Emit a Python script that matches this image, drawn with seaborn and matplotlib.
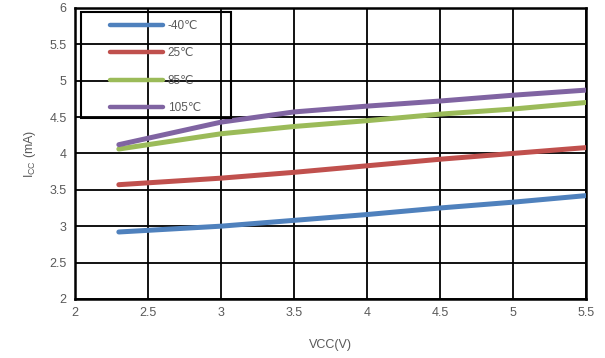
import matplotlib
matplotlib.use("Agg")
import matplotlib.pyplot as plt
from matplotlib.patches import Rectangle
import pandas as pd
import seaborn as sns

# supply voltage (V)
vcc = [2.3, 3.0, 3.5, 4.0, 4.5, 5.0, 5.5]

# supply current (mA) per temperature
icc_m40 = [2.92, 3.00, 3.08, 3.16, 3.25, 3.33, 3.42]
icc_25 = [3.57, 3.66, 3.74, 3.83, 3.92, 4.00, 4.08]
icc_85 = [4.06, 4.27, 4.37, 4.45, 4.54, 4.61, 4.70]
icc_105 = [4.12, 4.43, 4.57, 4.65, 4.72, 4.80, 4.87]

temps = ['-40℃', '25℃', '85℃', '105℃']
colors = ['#4f81bd', '#c0504d', '#9bbb59', '#8064a2']

x_ticks = [2, 2.5, 3, 3.5, 4, 4.5, 5, 5.5]
y_ticks = [2, 2.5, 3, 3.5, 4, 4.5, 5, 5.5, 6]

df = pd.concat([
    pd.DataFrame({'vcc': vcc, 'icc': vals, 'temp': t})
    for t, vals in zip(temps, [icc_m40, icc_25, icc_85, icc_105])
])

sns.set_style('white')
plt.rcParams['font.family'] = ['Liberation Sans', 'DejaVu Sans']

fig, ax = plt.subplots(figsize=(6.05, 3.58), dpi=100)
fig.subplots_adjust(left=0.124, right=0.969, top=0.978, bottom=0.165)

sns.lineplot(data=df, x='vcc', y='icc', hue='temp', hue_order=temps,
             palette=colors, linewidth=3.6, ax=ax, zorder=3,
             solid_capstyle='round')

ax.set_xlim(2, 5.5)
ax.set_ylim(2, 6)
ax.set_xticks(x_ticks)
ax.set_xticklabels([f'{v:g}' for v in x_ticks])
ax.set_yticks(y_ticks)
ax.set_yticklabels([f'{v:g}' for v in y_ticks])
ax.grid(True, color='black', linewidth=1.3)
ax.set_axisbelow(True)
for s in ax.spines.values():
    s.set_color('black')
    s.set_linewidth(1.8)
ax.tick_params(axis='both', length=0, labelsize=9, labelcolor='#595959', pad=6)

ax.set_xlabel('VCC(V)', fontsize=9, color='#595959', labelpad=14)
ax.set_ylabel(r'I$_{\mathregular{CC}}$ (mA)', fontsize=9, color='#595959', labelpad=8)

# legend box (outlined, transparent) as in the original
ax.add_patch(Rectangle((0.012, 0.622), 0.293, 0.364, transform=ax.transAxes,
                       fill=False, edgecolor='black', linewidth=1.5, zorder=4))
leg = ax.legend(loc='upper left', bbox_to_anchor=(0.068, 0.958), frameon=False,
                handlelength=4.5, handletextpad=0.4, labelspacing=1.3,
                borderpad=0, borderaxespad=0, fontsize=8.5)
for t in leg.get_texts():
    t.set_color('#595959')
for h in leg.get_lines():
    h.set_solid_capstyle('round')
    h.set_linewidth(3.2)

fig.savefig('out.png', dpi=100)
